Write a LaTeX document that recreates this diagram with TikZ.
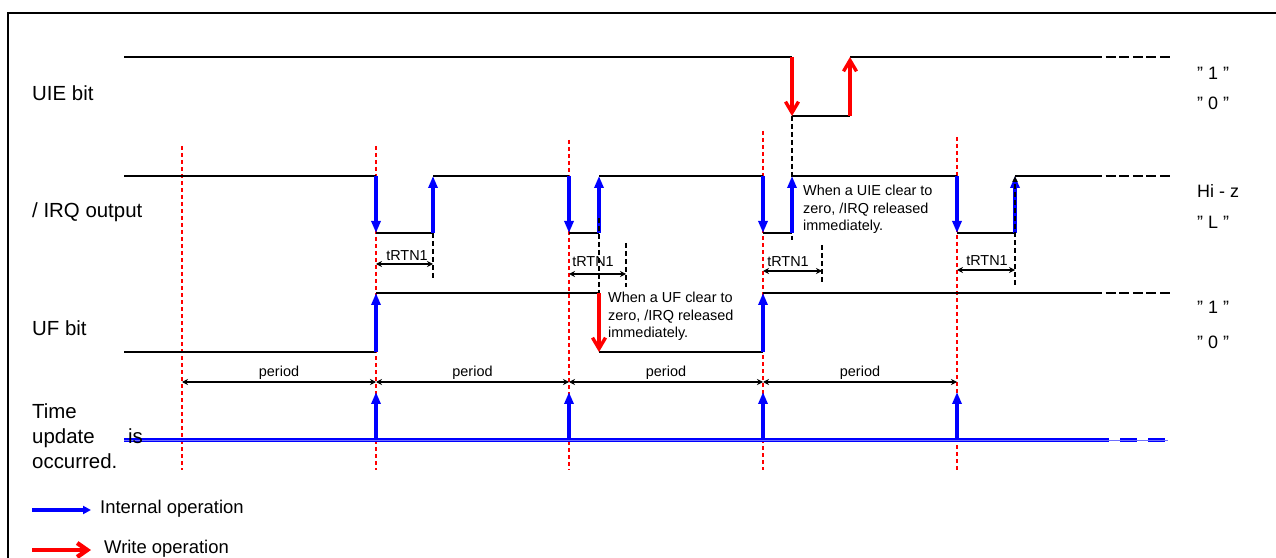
\documentclass[tikz,border=0pt]{standalone}
\usepackage{fontspec}
\setmainfont{Liberation Sans}
\usetikzlibrary{arrows.meta}
\definecolor{guideColor}{HTML}{FF0000}
\definecolor{intColor}{HTML}{0000FF}
\definecolor{intLightColor}{HTML}{6F6FFF}
\definecolor{writeColor}{HTML}{FF0000}
\definecolor{waveColor}{HTML}{000000}
\def\posA{182}
\def\posB{376}
\def\posC{569}
\def\posD{763}
\def\posE{957}
\def\sigFont{\fontsize{20.5}{25}\selectfont}
\def\lvlFont{\fontsize{18}{22}\selectfont}
\def\noteFont{\fontsize{14.5}{17.5}\selectfont}

\begin{document}
\begin{tikzpicture}[x=1bp,y=-1bp,
  wave/.style={color=waveColor, line width=1.3bp},
  contd/.style={color=waveColor, line width=2.6bp, dash pattern=on 10bp off 3.6bp},
  guide/.style={color=guideColor, line width=1.3bp, dash pattern=on 4bp off 3bp},
  release/.style={color=waveColor, line width=1.5bp, dash pattern=on 5bp off 3bp},
  intarrow/.style={color=intColor, line width=3.4bp, -{Triangle[length=12bp,width=9bp]}},
  writearrow/.style={color=writeColor, line width=3.4bp, -{Straight Barb[length=11bp,width=13bp]}},
  dimarrow/.style={color=waveColor, line width=1.3bp, {Stealth[length=6bp,width=6bp]}-{Stealth[length=6bp,width=6bp]}},
  lbl/.style={anchor=west, inner sep=0pt}]

\useasboundingbox (0, 0) rectangle (1276, 558);

% frame
\begin{scope}
\draw[line width=2bp] (8, 558) -- (8, 13) -- (1276, 13);
\end{scope}

% guide layer
\begin{scope}
\draw[guide] (\posA, 146) -- (\posA, 470);
\draw[guide] (\posB, 146) -- (\posB, 470);
\draw[guide] (\posC, 140) -- (\posC, 470);
\draw[guide] (\posD, 131) -- (\posD, 470);
\draw[guide] (\posE, 137) -- (\posE, 470);
\end{scope}

% wave layer
\begin{scope}
% UIE bit
\draw[wave] (124, 57) -- (792, 57);
\draw[wave] (792, 116) -- (850, 116);
\draw[wave] (850, 57) -- (1092, 57);
\draw[contd] (1092, 57) -- (1170, 57);
% /IRQ output
\draw[wave] (124, 176) -- (\posB, 176);
\draw[wave] (\posB, 233) -- (433, 233);
\draw[wave] (433, 176) -- (\posC, 176);
\draw[wave] (\posC, 233) -- (599, 233);
\draw[wave] (599, 176) -- (\posD, 176);
\draw[wave] (\posD, 233) -- (792, 233);
\draw[wave] (792, 176) -- (\posE, 176);
\draw[wave] (\posE, 233) -- (1015, 233);
\draw[wave] (1015, 176) -- (1092, 176);
\draw[contd] (1092, 176) -- (1170, 176);
% UF bit
\draw[wave] (124, 352) -- (\posB, 352);
\draw[wave] (\posB, 293) -- (599, 293);
\draw[wave] (599, 352) -- (\posD, 352);
\draw[wave] (\posD, 293) -- (1092, 293);
\draw[contd] (1092, 293) -- (1170, 293);
% time update
\draw[color=intColor, line width=4.4bp] (124, 440) -- (1092, 440);
\draw[color=intColor, line width=4.4bp, dash pattern=on 17bp off 11bp] (1092, 440) -- (1168, 440);
\draw[color=intLightColor, line width=0.8bp] (124, 440) -- (1168, 440);
\end{scope}

% release layer
\begin{scope}
\draw[release] (792, 116) -- (792, 240);
\draw[release] (433, 233) -- (433, 278);
\draw[release] (626, 243) -- (626, 287);
\draw[release] (822, 245) -- (822, 285);
\end{scope}

% arrow layer
\begin{scope}
\draw[writearrow] (792, 57) -- (792, 116);
\draw[writearrow] (850, 116) -- (850, 57);
\draw[intarrow] (\posB, 176) -- (\posB, 233);
\draw[intarrow] (433, 233) -- (433, 176);
\draw[intarrow] (\posC, 176) -- (\posC, 233);
\draw[intarrow] (599, 233) -- (599, 176);
\draw[intarrow] (\posD, 176) -- (\posD, 233);
\draw[intarrow] (792, 233) -- (792, 176);
\draw[intarrow] (\posE, 176) -- (\posE, 233);
\draw[intarrow] (1015, 233) -- (1015, 176);
\draw[intarrow] (\posB, 352) -- (\posB, 293);
\draw[writearrow] (599, 293) -- (599, 352);
\draw[intarrow] (\posD, 352) -- (\posD, 293);
\draw[intarrow] (\posB, 440) -- (\posB, 392);
\draw[intarrow] (\posC, 440) -- (\posC, 392);
\draw[intarrow] (\posD, 440) -- (\posD, 392);
\draw[intarrow] (\posE, 440) -- (\posE, 392);
\draw[release] (599, 218) -- (599, 293);
\draw[release, -{Triangle[length=6bp,width=5bp]}] (1015, 285) -- (1015, 176);
\end{scope}

% tRTN1 layer
\begin{scope}[font=\noteFont]
\draw[dimarrow] (\posB, 264) -- (433, 264);
\node[inner sep=0pt] (tRtnA) at (407, 256) {tRTN1};
\draw[dimarrow] (\posC, 274) -- (626, 274);
\node[inner sep=0pt] (tRtnB) at (593, 262) {tRTN1};
\draw[dimarrow] (\posD, 271) -- (822, 271);
\node[inner sep=0pt] (tRtnC) at (788, 262) {tRTN1};
\draw[dimarrow] (\posE, 270) -- (1015, 270);
\node[inner sep=0pt] (tRtnD) at (987, 261) {tRTN1};
\end{scope}

% period layer
\begin{scope}[font=\noteFont]
\draw[dimarrow] (\posA, 382) -- node[above=-1bp] (perA) {period} (\posB, 382);
\draw[dimarrow] (\posB, 382) -- node[above=-1bp] (perB) {period} (\posC, 382);
\draw[dimarrow] (\posC, 382) -- node[above=-1bp] (perC) {period} (\posD, 382);
\draw[dimarrow] (\posD, 382) -- node[above=-1bp] (perD) {period} (\posE, 382);
\end{scope}

% note layer
\begin{scope}[font=\noteFont]
\node[anchor=north west, inner sep=0pt, align=left] (noteUIE) at (803, 185)
{When a UIE clear to\\zero, /IRQ released\\immediately.};
\node[anchor=north west, inner sep=0pt, align=left] (noteUF) at (608, 292)
{When a UF clear to\\zero, /IRQ released\\immediately.};
\end{scope}

% label layer
\begin{scope}[font=\sigFont]
\node[lbl] (sigUIE) at (32, 93) {UIE bit};
\node[lbl] (sigIRQ) at (32, 212) {/ IRQ output};
\node[lbl] (sigUF) at (32, 328) {UF bit};
\node[lbl, anchor=north west, align=left] (sigTime) at (32, 404) {Time\\update\\occurred.};
\node[lbl] (sigIs) at (128, 436) {is};
\end{scope}
\begin{scope}[font=\lvlFont]
\node[lbl] (lvlUIEhi) at (1197, 73) {" 1 "};
\node[lbl] (lvlUIElo) at (1197, 103) {" 0 "};
\node[lbl] (lvlIRQhi) at (1197, 191) {Hi - z};
\node[lbl] (lvlIRQlo) at (1197, 222) {" L "};
\node[lbl] (lvlUFhi) at (1197, 307) {" 1 "};
\node[lbl] (lvlUFlo) at (1197, 342) {" 0 "};
\end{scope}

% legend
\begin{scope}[font=\fontsize{18.5}{22}\selectfont]
\coordinate (legIntA) at (32, 510);
\coordinate (legIntB) at (91, 510);
\draw[color=intColor, line width=3.6bp, -{Triangle[length=8bp,width=8bp]}] (legIntA) -- (legIntB);
\node[lbl] (legInt) at (100, 509) {Internal operation};
\coordinate (legWrA) at (32, 550);
\coordinate (legWrB) at (91, 550);
\draw[color=writeColor, line width=4.4bp, -{Straight Barb[length=10bp,width=14bp]}] (legWrA) -- (legWrB);
\node[lbl] (legWr) at (104, 549) {Write operation};
\end{scope}

\end{tikzpicture}
\end{document}
